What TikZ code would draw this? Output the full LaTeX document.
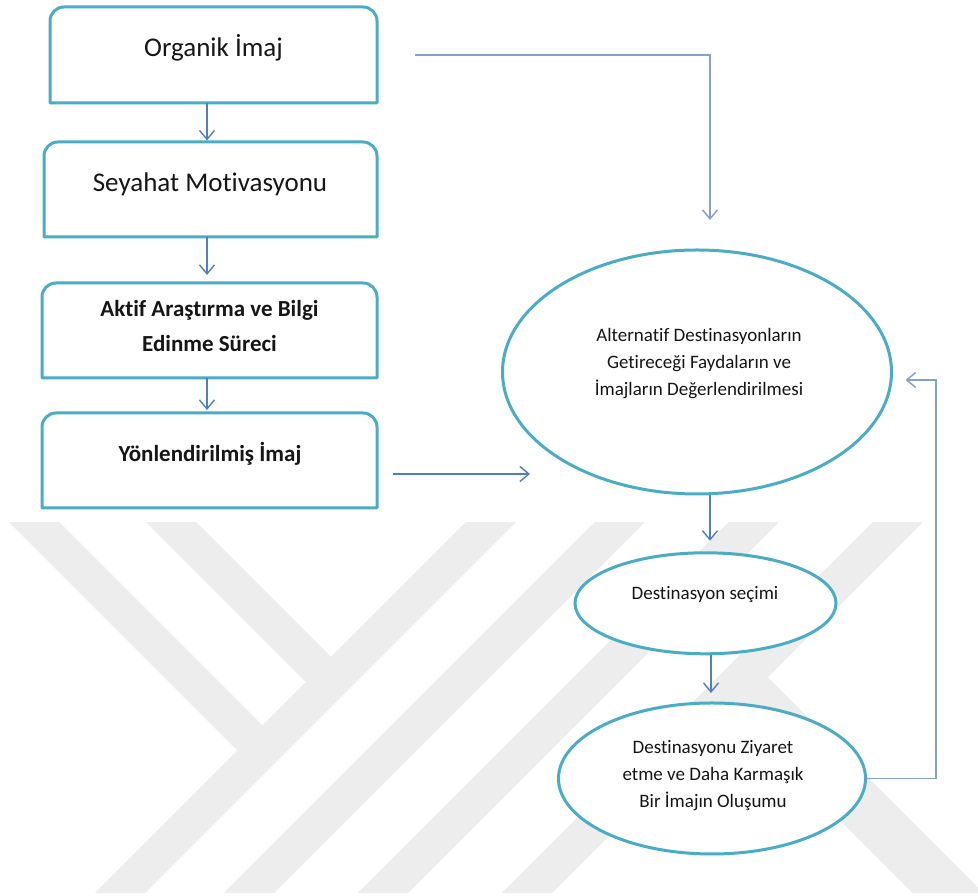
\documentclass[tikz,border=0pt]{standalone}
\usepackage{fontspec}
\setmainfont{Carlito}[Ligatures={NoCommon}]
\usetikzlibrary{shapes.geometric,arrows.meta}
\definecolor{tealb}{HTML}{4BACC6}
\definecolor{arrblue}{HTML}{4F7FC0}
\definecolor{arrlight}{HTML}{86A0CB}
\definecolor{wm}{HTML}{EDEDED}
\definecolor{txt}{HTML}{161616}
\newcommand\drawframe[1]{\draw[framedraw] (#1.south west) -- ([yshift=-14pt]#1.north west) arc[start angle=180,end angle=90,radius=14pt] -- ([xshift=-14pt]#1.north east) arc[start angle=90,end angle=0,radius=14pt] -- (#1.south east) -- cycle;}
\begin{document}
\begin{tikzpicture}[x=1pt,y=1pt,
  frame/.style={rectangle, draw=none, fill=none, inner sep=0pt, outer sep=0pt},
  framedraw/.style={draw=tealb, line width=3pt, fill=white, line join=round},
  oval/.style={ellipse, draw=tealb, line width=3pt, fill=white, inner sep=0pt, outer sep=0pt},
  bigtxt/.style={font=\fontsize{27}{32}\selectfont, text=txt, inner sep=0pt, anchor=base},
  boldtxt/.style={font=\bfseries\fontsize{23}{35}\selectfont, text=txt, inner sep=0pt, align=center},
  smalltxt/.style={font=\fontsize{19}{27}\selectfont, text=txt, inner sep=0pt, align=center},
  arr/.style={draw=arrblue, line width=1.4pt, -{Straight Barb[length=9pt,width=15pt]}},
  arrfaint/.style={draw=arrlight, line width=1.5pt, -{Straight Barb[length=9pt,width=15pt]}},
  wmband/.style={draw=wm, line width=35.4pt}
]
\useasboundingbox[fill=white] (0,0) rectangle (978,896);

% watermark
\begin{scope}[yshift=896pt, yscale=-1]
  \clip (0,523) rectangle (978,893);
  \draw[wmband] (513,500) -- (93,920);
  \draw[wmband] (12,500) -- (262.5,750.5);
  \draw[wmband] (149,500) -- (331,682);
  \draw[wmband] (642,500) -- (222,920);
  \draw[wmband] (776,500) -- (356,920);
  \draw[wmband] (920,500) -- (500,920);
  \draw[wm, line width=50pt] (737.5,682.5) -- (1000,945);
\end{scope}

% boxes
\node[frame, minimum width=327pt, minimum height=96pt] (f1) at (213.5,841) {};
\node[frame, minimum width=333pt, minimum height=95pt] (f2) at (210.5,706.5) {};
\node[frame, minimum width=335pt, minimum height=95pt] (f3) at (209.5,565.5) {};
\node[frame, minimum width=335pt, minimum height=95pt] (f4) at (209.5,435.5) {};
\drawframe{f1}
\drawframe{f2}
\drawframe{f3}
\drawframe{f4}

% ellipses
\node[oval, minimum width=389pt, minimum height=244pt] (e1) at (697,524) {};
\node[oval, minimum width=261pt, minimum height=101pt] (e2) at (705.5,292.7) {};
\node[oval, minimum width=307pt, minimum height=151pt] (e3) at (712,117.5) {};

% texts
\node[bigtxt] (t1) at (213.5,839) {Organik İmaj};
\node[bigtxt] (t2) at (210,704) {Seyahat Motivasyonu};
\node[boldtxt] (t3) at (209.5,569.6) {Aktif Araştırma ve Bilgi\\Edinme Süreci};
\node[boldtxt, anchor=base] (t4) at (210,434.3) {Yönlendirilmiş İmaj};
\node[smalltxt] (te1) at (699,532.5) {Alternatif Destinasyonların\\Getireceği Faydaların ve\\İmajların Değerlendirilmesi};
\node[smalltxt, anchor=base] (te2) at (705,296) {Destinasyon seçimi};
\node[smalltxt] (te3) at (713,120.5) {Destinasyonu Ziyaret\\etme ve Daha Karmaşık\\Bir İmajın Oluşumu};

% helper coordinates
\coordinate (cA) at (207,0);
\coordinate (cB) at (710,0);
\coordinate (cC) at (711,0);
\coordinate (a4e) at (530,422);
\coordinate (a5e) at ([yshift=30pt]e1.north);
\coordinate (fb) at (936,516);

% connectors
\draw[arr, shorten >=1.5pt] (f1.south -| cA) -- (f2.north -| cA);
\draw[arr, shorten >=8pt] (f2.south -| cA) -- (f3.north -| cA);
\draw[arr, shorten >=3pt] (f3.south -| cA) -- (f4.north -| cA);
\draw[arr, shorten <=16pt] (f4.east |- a4e) -- (a4e);
\draw[arrfaint, shorten <=38pt] (f1.east) -- (f1.east -| cB) -- (a5e -| cB);
\draw[arr, shorten <=1.5pt, shorten >=12pt] (e1.south -| cB) -- (e2.north -| cB);
\draw[arr, shorten <=1.5pt, shorten >=10pt] (e2.south -| cC) -- (e3.north -| cC);
\draw[arrfaint, shorten >=14pt] (e3.east) -| (fb) -- (e1.east |- fb);
\end{tikzpicture}
\end{document}
